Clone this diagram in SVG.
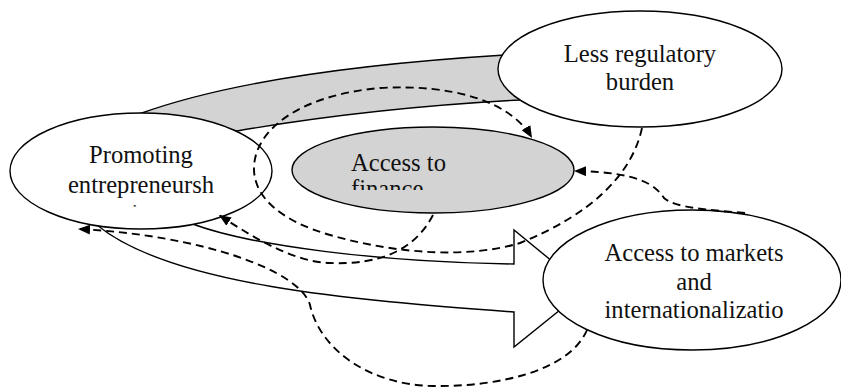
<svg xmlns="http://www.w3.org/2000/svg" width="841" height="387" viewBox="0 0 841 387">
<style>
.node{fill:#fff;stroke:#000;stroke-width:1.4}
.grey{fill:#d3d3d3;stroke:#000;stroke-width:1.4}
.lbl{font-family:"Liberation Serif","Times New Roman",serif;font-size:24.6px;fill:#111}
.dash{fill:none;stroke:#000;stroke-width:1.9;stroke-dasharray:8 5}
</style>
<defs>
<marker id="ah" markerUnits="userSpaceOnUse" markerWidth="12" markerHeight="10" refX="12" refY="5" orient="auto">
<path d="M0,0 L12,5 L0,10 Z" fill="#000"/>
</marker>
<clipPath id="clipFin"><rect x="290" y="120" width="290" height="70"/></clipPath>
<clipPath id="clipProm"><rect x="0" y="100" width="300" height="106.5"/></clipPath>
</defs>

<g id="band">
<path class="grey" d="M139,114 Q260,70 505,55 L560,70 L520,100 Q370,108 237,131 Z"/>
</g>

<g id="block-arrow">
<path class="node" d="M190,223 C250,246 380,262 514,264 L514,230 L586,289 L514,347 L514,312 C350,300 170,285 97,225 L190,223 Z"/>
</g>

<g id="node-promoting">
<ellipse class="node" cx="141" cy="171" rx="131" ry="58"/>
<g clip-path="url(#clipProm)">
<text class="lbl" text-anchor="middle"><tspan x="141" y="163">Promoting</tspan><tspan x="141" y="193">entrepreneursh</tspan><tspan x="141" y="222">ip</tspan></text>
</g>
</g>

<g id="node-finance">
<ellipse class="grey" cx="433" cy="170" rx="141" ry="43"/>
<g clip-path="url(#clipFin)">
<text class="lbl"><tspan x="351" y="171">Access to</tspan><tspan x="351" y="197">finance</tspan></text>
</g>
</g>

<g id="node-regulatory">
<ellipse class="node" cx="640" cy="69" rx="142" ry="58"/>
<text class="lbl" text-anchor="middle"><tspan x="640" y="62">Less regulatory</tspan><tspan x="640" y="90">burden</tspan></text>
</g>

<g id="node-markets">
<ellipse class="node" cx="692" cy="280" rx="149" ry="70"/>
<text class="lbl" text-anchor="middle"><tspan x="694" y="261">Access to markets</tspan><tspan x="694" y="290">and</tspan><tspan x="694" y="318">internationalizatio</tspan></text>
</g>

<g id="connectors">
<path class="dash" marker-end="url(#ah)" d="M642,128 C632,175 590,215 520,243 C470,258 400,255 330,235 C285,222 255,200 254,170 C253,130 300,95 380,88 C450,84 510,100 532,138"/>
<path class="dash" marker-end="url(#ah)" d="M433,215 C415,250 380,265 330,263 C290,262 245,232 219,215"/>
<path class="dash" marker-end="url(#ah)" d="M745,213 C710,210 675,208 664,198 C655,185 640,172 574,171"/>
<path class="dash" marker-end="url(#ah)" d="M587,330 C570,370 500,387 433,386 C370,385 320,350 310,305 C300,270 200,235 78,229"/>
</g>
</svg>
